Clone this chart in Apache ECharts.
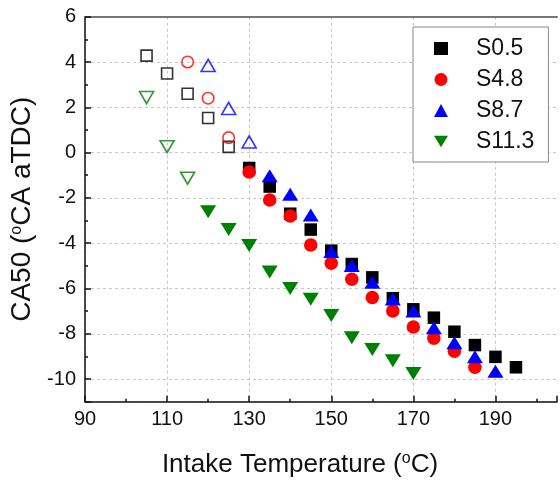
<!DOCTYPE html>
<html>
<head>
<meta charset="utf-8">
<script src="https://cdn.jsdelivr.net/npm/echarts@6/dist/echarts.min.js"></script>
<style>html,body{margin:0;padding:0;background:#fff}#c{width:560px;height:485px}</style>
</head>
<body>
<div id="c"></div>
<script>
// Series names
const seriesNames = ['S0.5', 'S4.8', 'S8.7', 'S11.3'];
// S0.5 (black squares)
const s05OpenX = [105, 110, 115, 120, 125];
const s05OpenY = [4.28, 3.49, 2.6, 1.53, 0.25];
const s05X = [130, 135, 140, 145, 150, 155, 160, 165, 170, 175, 180, 185, 190, 195];
const s05Y = [-0.68, -1.5, -2.7, -3.4, -4.33, -4.92, -5.51, -6.43, -6.92, -7.29, -7.91, -8.5, -9.02, -9.48];
// S4.8 (red circles)
const s48OpenX = [115, 120, 125];
const s48OpenY = [4.0, 2.4, 0.66];
const s48X = [130, 135, 140, 145, 150, 155, 160, 165, 170, 175, 180, 185];
const s48Y = [-0.86, -2.09, -2.8, -4.08, -4.89, -5.59, -6.4, -6.99, -7.7, -8.2, -8.77, -9.48];
// S8.7 (blue up triangles)
const s87OpenX = [120, 125, 130];
const s87OpenY = [3.85, 1.95, 0.47];
const s87X = [135, 140, 145, 150, 155, 160, 165, 170, 175, 180, 185, 190];
const s87Y = [-1.02, -1.84, -2.76, -4.37, -4.99, -5.73, -6.47, -6.99, -7.73, -8.4, -9.02, -9.66];
// S11.3 (green down triangles)
const s113OpenX = [105, 110, 115];
const s113OpenY = [2.43, 0.26, -1.13];
const s113X = [120, 125, 130, 135, 140, 145, 150, 155, 160, 165, 170];
const s113Y = [-2.61, -3.4, -4.1, -5.27, -6.0, -6.48, -7.19, -8.18, -8.7, -9.19, -9.76];
// Axis ranges / ticks (x axis is cut by the picture's right edge)
const xMin = 90, xMax = 205, xStep = 20, xMinorStep = 10;
const yMin = -11, yMax = 6, yStep = 2, yMinorStep = 1;

const pair = (xs, ys) => xs.map((x, i) => [x, ys[i]]);
const FONT = "'Liberation Sans', Arial, sans-serif";
const colors = ['#000000', '#ff0000', '#0000ff', '#008000'];
const downTri = 'path://M0,0L16,0L8,13Z';

const filled = [
  {name: seriesNames[0], data: pair(s05X, s05Y), symbol: 'rect', symbolSize: 12.5, symbolRotate: 0},
  {name: seriesNames[1], data: pair(s48X, s48Y), symbol: 'circle', symbolSize: 13.5, symbolRotate: 0},
  {name: seriesNames[2], data: pair(s87X, s87Y), symbol: 'triangle', symbolSize: [16, 13], symbolRotate: 0},
  {name: seriesNames[3], data: pair(s113X, s113Y), symbol: 'triangle', symbolSize: [16, 13], symbolRotate: 180}
];
const open = [
  {data: pair(s05OpenX, s05OpenY), symbol: 'rect', symbolSize: 11, symbolRotate: 0},
  {data: pair(s48OpenX, s48OpenY), symbol: 'circle', symbolSize: 11.5, symbolRotate: 0},
  {data: pair(s87OpenX, s87OpenY), symbol: 'triangle', symbolSize: [14, 12], symbolRotate: 0},
  {data: pair(s113OpenX, s113OpenY), symbol: 'triangle', symbolSize: [14, 12], symbolRotate: 180}
];

const series = [];
open.forEach((s, i) => series.push({
  type: 'scatter', name: seriesNames[i] + ' (open)', data: s.data, symbol: s.symbol,
  symbolSize: s.symbolSize, symbolRotate: s.symbolRotate, xAxisIndex: 0, yAxisIndex: 0,
  itemStyle: {color: 'rgba(255,255,255,0)', borderColor: colors[i], borderWidth: 1.6},
  emphasis: {disabled: true}
}));
filled.forEach((s, i) => series.push({
  type: 'scatter', name: s.name, data: s.data, symbol: s.symbol,
  symbolSize: s.symbolSize, symbolRotate: s.symbolRotate, xAxisIndex: 0, yAxisIndex: 0,
  itemStyle: {color: colors[i], opacity: 1},
  emphasis: {disabled: true}
}));

const gridLine = {show: true, showMaxLine: false, lineStyle: {color: '#c8c8c8', type: [3, 3], width: 1}};
const supRich = {sup: {fontSize: 16, fontFamily: FONT, color: '#111', verticalAlign: 'top', padding: [0, 0, 12, 0]}};
const isMult = (v, step) => Math.abs(v / step - Math.round(v / step)) < 1e-6;

const chart = echarts.init(document.getElementById('c'), null, {renderer: 'canvas'});
chart.setOption({
  animation: false,
  backgroundColor: '#fff',
  grid: {left: 85, top: 16.7, right: 0, bottom: 83.3, containLabel: false},
  legend: {
    data: [
      {name: seriesNames[0]}, {name: seriesNames[1]}, {name: seriesNames[2]},
      {name: seriesNames[3], icon: downTri}
    ],
    orient: 'vertical', left: 413, top: 27,
    padding: [10, 14, 9, 21],
    itemWidth: 14, itemHeight: 13, itemGap: 8,
    symbolKeepAspect: true,
    backgroundColor: '#fff', borderColor: '#888', borderWidth: 1,
    formatter: n => '{g|}' + n,
    textStyle: {fontSize: 23, fontFamily: FONT, color: '#111', rich: {g: {width: 23}}},
    selectedMode: false
  },
  xAxis: [{
    type: 'value', min: xMin, max: xMax, interval: xStep, position: 'bottom',
    axisLine: {show: true, onZero: false, lineStyle: {color: '#111', width: 1.5}},
    axisTick: {show: true, inside: true, length: 6, lineStyle: {color: '#111', width: 1.5}},
    axisLabel: {fontSize: 20, fontFamily: FONT, color: '#111', margin: 8,
      formatter: v => (isMult(v - xMin, xStep) ? String(Math.round(v)) : '')},
    splitLine: gridLine,
    name: 'Intake Temperature ({sup|o}C)', nameLocation: 'middle', nameGap: 49,
    nameTextStyle: {fontSize: 26, fontFamily: FONT, color: '#111', padding: [0, 42, 0, 0], rich: supRich}
  }, {
    type: 'value', min: xMin, max: xMax, position: 'top',
    axisLine: {show: true, onZero: false, lineStyle: {color: '#777', width: 2}},
    axisTick: {show: false}, axisLabel: {show: false}, splitLine: {show: false}
  }, {
    type: 'value', min: xMin, max: xMax, interval: xMinorStep, position: 'bottom',
    axisLine: {show: false, onZero: false},
    axisTick: {show: true, inside: true, length: 3, lineStyle: {color: '#111', width: 1.5}},
    axisLabel: {show: false}, splitLine: {show: false}
  }],
  yAxis: [{
    type: 'value', min: yMin, max: yMax, minInterval: yStep, maxInterval: yStep, splitNumber: 8, position: 'left',
    axisLine: {show: true, onZero: false, lineStyle: {color: '#111', width: 1.5}},
    axisTick: {show: true, inside: true, length: 6, lineStyle: {color: '#111', width: 1.5}},
    axisLabel: {fontSize: 20, fontFamily: FONT, color: '#111', margin: 9,
      formatter: v => (isMult(v, yStep) ? String(v) : '')},
    splitLine: gridLine,
    name: 'CA50 ({sup|o}CA aTDC)', nameLocation: 'middle', nameGap: 46, nameRotate: 90,
    nameTextStyle: {fontSize: 28, fontFamily: FONT, color: '#111', rich: supRich}
  }, {
    type: 'value', min: yMin, max: yMax, interval: yMinorStep, position: 'left',
    axisLine: {show: false, onZero: false},
    axisTick: {show: true, inside: true, length: 3, lineStyle: {color: '#111', width: 1.5}},
    axisLabel: {show: false}, splitLine: {show: false}
  }],
  series: series
});
</script>
</body>
</html>
